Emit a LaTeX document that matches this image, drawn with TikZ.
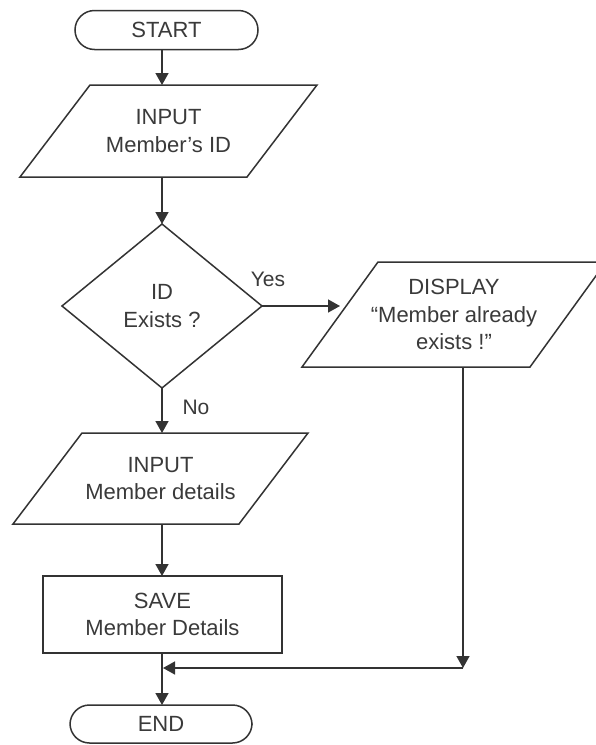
\documentclass[tikz,border=0pt]{standalone}
\usepackage{fontspec}
\setmainfont{Liberation Sans}
\usetikzlibrary{shapes.geometric,arrows.meta}
\definecolor{ln}{HTML}{333333}
\definecolor{tx}{HTML}{3A3A3A}
\begin{document}
\begin{tikzpicture}[x=1pt,y=-1pt,
  every node/.style={font=\fontsize{22}{27.5}\selectfont, text=tx, align=center, inner sep=0pt, outer sep=0pt},
  term/.style={draw=ln, line width=1.5pt, rounded corners=19.5pt, minimum height=39pt},
  proc/.style={draw=ln, line width=1.5pt, minimum width=239pt, minimum height=77pt},
  dec/.style={draw=ln, line width=1.5pt, diamond, minimum width=200pt, minimum height=164pt},
  lbl/.style={font=\fontsize{21}{25}\selectfont},
  edge/.style={draw=ln, line width=1.5pt, line join=miter},
  arr/.style={draw=ln, line width=1.5pt, -{Triangle[length=12pt,width=13pt]}}
]
\useasboundingbox[fill=white] (0,0) rectangle (596,745);

\node[term, minimum width=183pt] (start) at (166.5,30) {START};
\node[minimum width=297pt, minimum height=92pt] (in1) at (168.5,131) {INPUT\\Member’s ID};
\node[dec] (dia) at (162,306) {ID\\Exists ?};
\node[minimum width=304pt, minimum height=105pt] (disp) at (454,314.5) {DISPLAY\\“Member already\\exists !”};
\node[minimum width=295pt, minimum height=91pt] (in2) at (160.5,478.5) {INPUT\\Member details};
\node[proc] (save) at (162.5,614.5) {SAVE\\Member Details};
\node[term, minimum width=182pt, minimum height=38pt] (end) at (161,724) {END};

% parallelogram outlines drawn on the named boxes
\draw[edge] ([xshift=70pt]in1.north west) -- (in1.north east) -- ([xshift=-70pt]in1.south east) -- (in1.south west) -- cycle;
\draw[edge] ([xshift=76pt]disp.north west) -- (disp.north east) -- ([xshift=-76pt]disp.south east) -- (disp.south west) -- cycle;
\draw[edge] ([xshift=69pt]in2.north west) -- (in2.north east) -- ([xshift=-69pt]in2.south east) -- (in2.south west) -- cycle;

\node[lbl] (yes) at (268,279) {Yes};
\node[lbl] (no) at (196,407) {No};

\coordinate (corner) at (463,668);

\draw[arr] (start.south -| dia.north) -- (in1.north -| dia.north);
\draw[arr] (in1.south -| dia.north) -- (dia.north);
\draw[arr] (dia.east) -- ([xshift=38pt]dia.east -| disp.west);
\draw[arr] (dia.south) -- (in2.north -| dia.south);
\draw[arr] (in2.south -| dia.south) -- (save.north -| dia.south);
\draw[arr] (save.south -| dia.south) -- (end.north -| dia.south);
\draw[arr] (disp.south -| corner) -- (corner);
\draw[arr] (corner) -- ([xshift=1pt]corner -| dia.south);
\end{tikzpicture}
\end{document}
